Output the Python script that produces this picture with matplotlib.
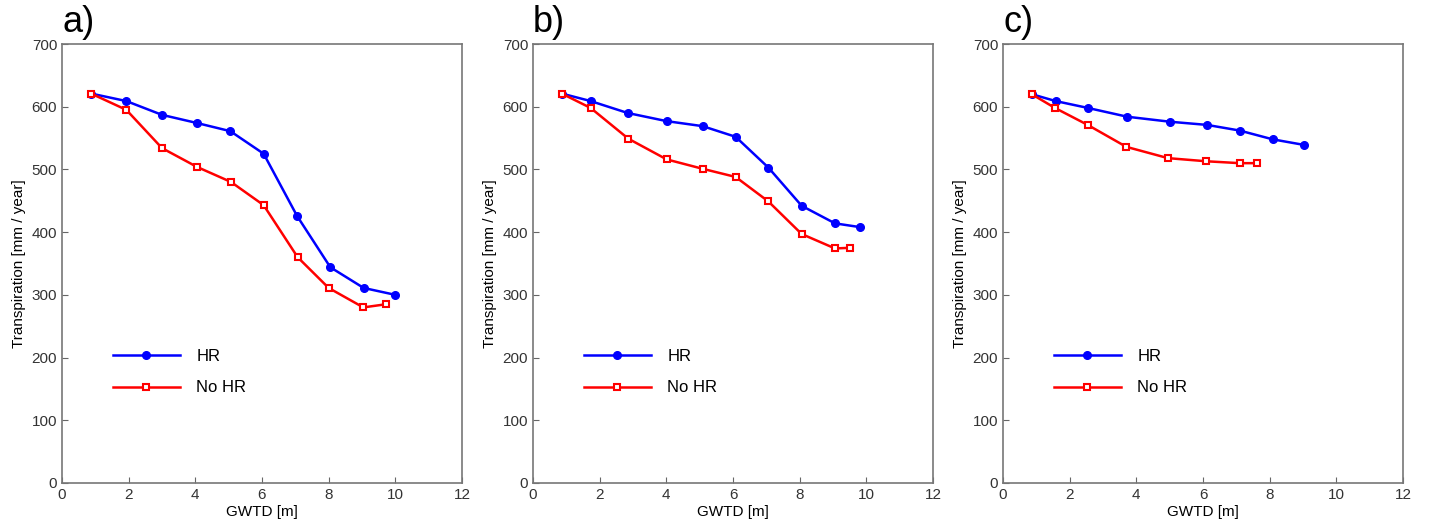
import matplotlib.pyplot as plt
import numpy as np

plt.rcParams['font.family'] = ['Liberation Sans', 'DejaVu Sans']

# panel a
gwtd_a_hr = [0.87, 1.93, 3.0, 4.05, 5.05, 6.05, 7.05, 8.05, 9.05, 10.0]
tr_a_hr = [621, 609, 587, 574, 561, 525, 426, 344, 311, 300]
gwtd_a_no = [0.87, 1.93, 3.0, 4.05, 5.07, 6.05, 7.07, 8.0, 9.04, 9.72]
tr_a_no = [621, 595, 534, 504, 480, 443, 360, 311, 280, 285]

# panel b
gwtd_b_hr = [0.86, 1.73, 2.84, 4.01, 5.09, 6.08, 7.06, 8.06, 9.06, 9.81]
tr_b_hr = [621, 609, 590, 577, 569, 552, 503, 442, 414, 408]
gwtd_b_no = [0.86, 1.73, 2.86, 4.01, 5.09, 6.08, 7.06, 8.06, 9.06, 9.51]
tr_b_no = [621, 598, 549, 516, 501, 488, 449, 397, 374, 375]

# panel c
gwtd_c_hr = [0.86, 1.58, 2.55, 3.73, 5.02, 6.12, 7.1, 8.09, 9.04]
tr_c_hr = [620, 609, 598, 584, 576, 571, 562, 548, 539]
gwtd_c_no = [0.86, 1.56, 2.54, 3.70, 4.95, 6.1, 7.1, 7.61]
tr_c_no = [620, 598, 571, 536, 518, 513, 510, 510]

paneles = [
    ('a)', gwtd_a_hr, tr_a_hr, gwtd_a_no, tr_a_no),
    ('b)', gwtd_b_hr, tr_b_hr, gwtd_b_no, tr_b_no),
    ('c)', gwtd_c_hr, tr_c_hr, gwtd_c_no, tr_c_no),
]

fig = plt.figure(figsize=(14.29, 5.27), dpi=100)
lefts = [62, 533, 1003]

for left, (letra, xh, yh, xn, yn) in zip(lefts, paneles):
    ax = fig.add_axes([left / 1429, 44 / 527, 400 / 1429, 439 / 527])
    ax.plot(xh, yh, '-o', color='#0000ff', lw=1.8, ms=5.5, label='HR')
    ax.plot(xn, yn, '-s', color='#ff0000', lw=1.8, ms=4.5, mfc='white',
            mew=1.5, label='No HR')
    ax.set_xlim(0, 12)
    ax.set_ylim(0, 700)
    ax.set_xticks(np.arange(0, 13, 2))
    ax.set_yticks(np.arange(0, 701, 100))
    ax.tick_params(direction='in', length=4, labelsize=11, color='#666666',
                   labelcolor='#333333')
    for s in ax.spines.values():
        s.set_color('#777777')
        s.set_linewidth(1.2)
    ax.set_xlabel('GWTD [m]', fontsize=11, labelpad=2)
    ax.set_ylabel('Transpiration [mm / year]', fontsize=11, labelpad=4)
    ax.text(0.0, 1.01, letra, transform=ax.transAxes, fontsize=26,
            ha='left', va='bottom')
    ax.legend(loc='upper left', bbox_to_anchor=(0.09, 0.34), frameon=False,
              fontsize=12, handlelength=4.0, handletextpad=1.0, labelspacing=1.0)

plt.savefig('out.png', dpi=100)
